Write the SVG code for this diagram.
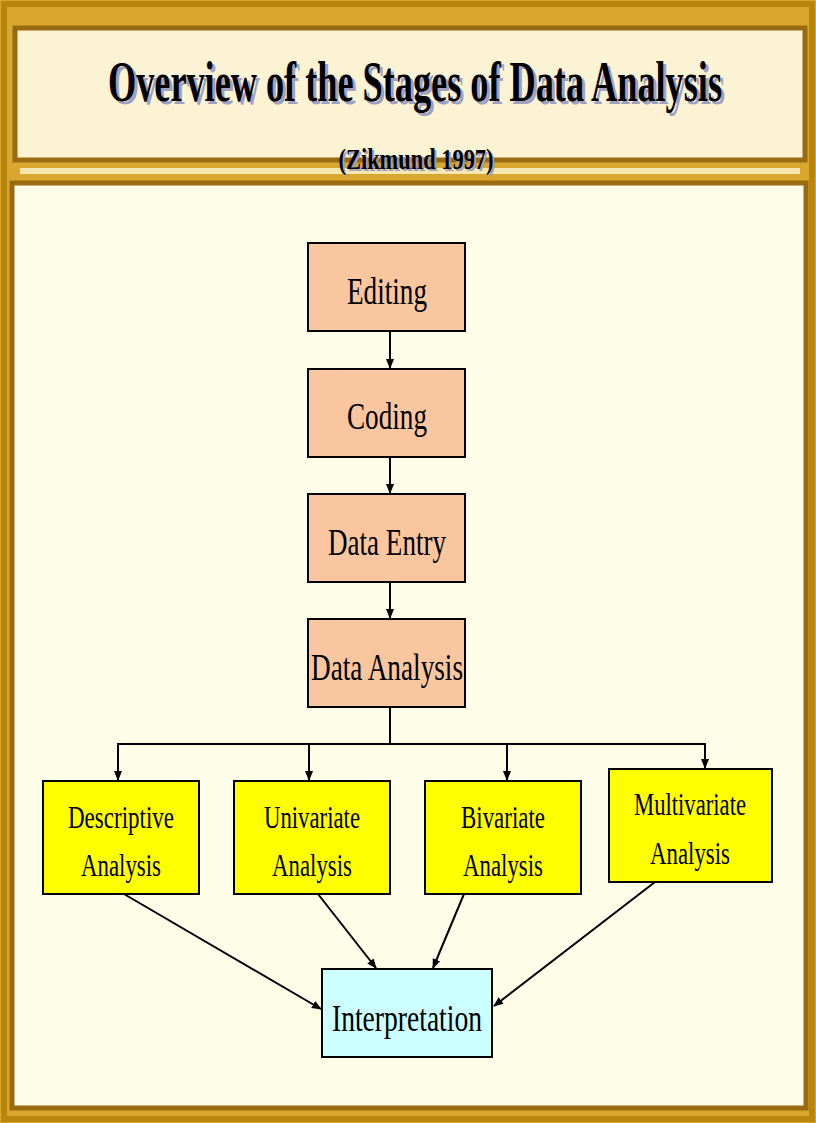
<svg xmlns="http://www.w3.org/2000/svg" width="816" height="1123" viewBox="0 0 816 1123">
<defs>
<style>
.t{font-family:"Liberation Serif","Times New Roman",serif;fill:#000}
.box{stroke:#000;stroke-width:2}
.c{stroke:#000;stroke-width:2;fill:none}
</style>
<marker id="a" markerWidth="10" markerHeight="10" refX="9" refY="5" orient="auto" markerUnits="userSpaceOnUse"><path d="M0,1 L10,5 L0,9 Z" fill="#000"/></marker>
</defs>
<rect width="816" height="1123" fill="#d9a72e"/>
<rect x="4" y="4" width="808" height="1115" fill="none" stroke="#b8860b" stroke-width="6"/>
<rect x="15" y="28" width="790" height="132" fill="#fbf3d4" stroke="#9a6a10" stroke-width="5"/>
<rect x="20" y="168" width="780" height="6" fill="#f6e7b0"/>
<rect x="12" y="183" width="794" height="925" fill="#fdfde8" stroke="#9a6a10" stroke-width="5"/>
<g id="title">
<text class="t" x="418" y="104" font-size="56" font-weight="bold" text-anchor="middle" fill="#9a9ab8" style="fill:#a0a0c0" textLength="614" lengthAdjust="spacingAndGlyphs">Overview of the Stages of Data Analysis</text>
<text class="t" x="415" y="101" font-size="56" font-weight="bold" text-anchor="middle" textLength="614" lengthAdjust="spacingAndGlyphs">Overview of the Stages of Data Analysis</text>
<text class="t" x="418" y="171" font-size="30" font-weight="bold" text-anchor="middle" style="fill:#a0a0c0" textLength="155" lengthAdjust="spacingAndGlyphs">(Zikmund 1997)</text>
<text class="t" x="416" y="169" font-size="30" font-weight="bold" text-anchor="middle" textLength="155" lengthAdjust="spacingAndGlyphs">(Zikmund 1997)</text>
</g>
<g id="connectors">
<line class="c" x1="390" y1="331" x2="390" y2="368" marker-end="url(#a)"/>
<line class="c" x1="390" y1="457" x2="390" y2="493" marker-end="url(#a)"/>
<line class="c" x1="390" y1="582" x2="390" y2="618" marker-end="url(#a)"/>
<line class="c" x1="390" y1="707" x2="390" y2="744"/>
<line class="c" x1="117" y1="744" x2="706" y2="744"/>
<line class="c" x1="118" y1="744" x2="118" y2="780" marker-end="url(#a)"/>
<line class="c" x1="309" y1="744" x2="309" y2="780" marker-end="url(#a)"/>
<line class="c" x1="507" y1="744" x2="507" y2="780" marker-end="url(#a)"/>
<line class="c" x1="705" y1="744" x2="705" y2="768" marker-end="url(#a)"/>
<line class="c" x1="124" y1="894" x2="321" y2="1009" marker-end="url(#a)"/>
<line class="c" x1="318" y1="894" x2="376" y2="968" marker-end="url(#a)"/>
<line class="c" x1="464" y1="894" x2="433" y2="968" marker-end="url(#a)"/>
<line class="c" x1="655" y1="882" x2="494" y2="1006" marker-end="url(#a)"/>
</g>
<g id="editing"><rect class="box" x="308" y="243" width="157" height="88" fill="#f9c6a0"/><text class="t" x="387" y="304" font-size="38" text-anchor="middle" textLength="80" lengthAdjust="spacingAndGlyphs">Editing</text></g>
<g id="coding"><rect class="box" x="308" y="369" width="157" height="88" fill="#f9c6a0"/><text class="t" x="387" y="429" font-size="38" text-anchor="middle" textLength="80" lengthAdjust="spacingAndGlyphs">Coding</text></g>
<g id="dataentry"><rect class="box" x="308" y="494" width="157" height="88" fill="#f9c6a0"/><text class="t" x="387" y="555" font-size="38" text-anchor="middle" textLength="118" lengthAdjust="spacingAndGlyphs">Data Entry</text></g>
<g id="dataanalysis"><rect class="box" x="308" y="619" width="157" height="88" fill="#f9c6a0"/><text class="t" x="387" y="680" font-size="38" text-anchor="middle" textLength="152" lengthAdjust="spacingAndGlyphs">Data Analysis</text></g>
<g id="descriptive"><rect class="box" x="43" y="781" width="156" height="113" fill="#ffff00"/><text class="t" x="121" y="828" font-size="32" text-anchor="middle" textLength="106" lengthAdjust="spacingAndGlyphs">Descriptive</text><text class="t" x="121" y="876" font-size="32" text-anchor="middle" textLength="80" lengthAdjust="spacingAndGlyphs">Analysis</text></g>
<g id="univariate"><rect class="box" x="234" y="781" width="156" height="113" fill="#ffff00"/><text class="t" x="312" y="828" font-size="32" text-anchor="middle" textLength="96" lengthAdjust="spacingAndGlyphs">Univariate</text><text class="t" x="312" y="876" font-size="32" text-anchor="middle" textLength="80" lengthAdjust="spacingAndGlyphs">Analysis</text></g>
<g id="bivariate"><rect class="box" x="425" y="781" width="156" height="113" fill="#ffff00"/><text class="t" x="503" y="828" font-size="32" text-anchor="middle" textLength="84" lengthAdjust="spacingAndGlyphs">Bivariate</text><text class="t" x="503" y="876" font-size="32" text-anchor="middle" textLength="80" lengthAdjust="spacingAndGlyphs">Analysis</text></g>
<g id="multivariate"><rect class="box" x="609" y="769" width="163" height="113" fill="#ffff00"/><text class="t" x="690" y="815" font-size="32" text-anchor="middle" textLength="112" lengthAdjust="spacingAndGlyphs">Multivariate</text><text class="t" x="690" y="864" font-size="32" text-anchor="middle" textLength="80" lengthAdjust="spacingAndGlyphs">Analysis</text></g>
<g id="interpretation"><rect class="box" x="322" y="969" width="170" height="88" fill="#ccffff"/><text class="t" x="407" y="1031" font-size="38" text-anchor="middle" textLength="150" lengthAdjust="spacingAndGlyphs">Interpretation</text></g>
</svg>
